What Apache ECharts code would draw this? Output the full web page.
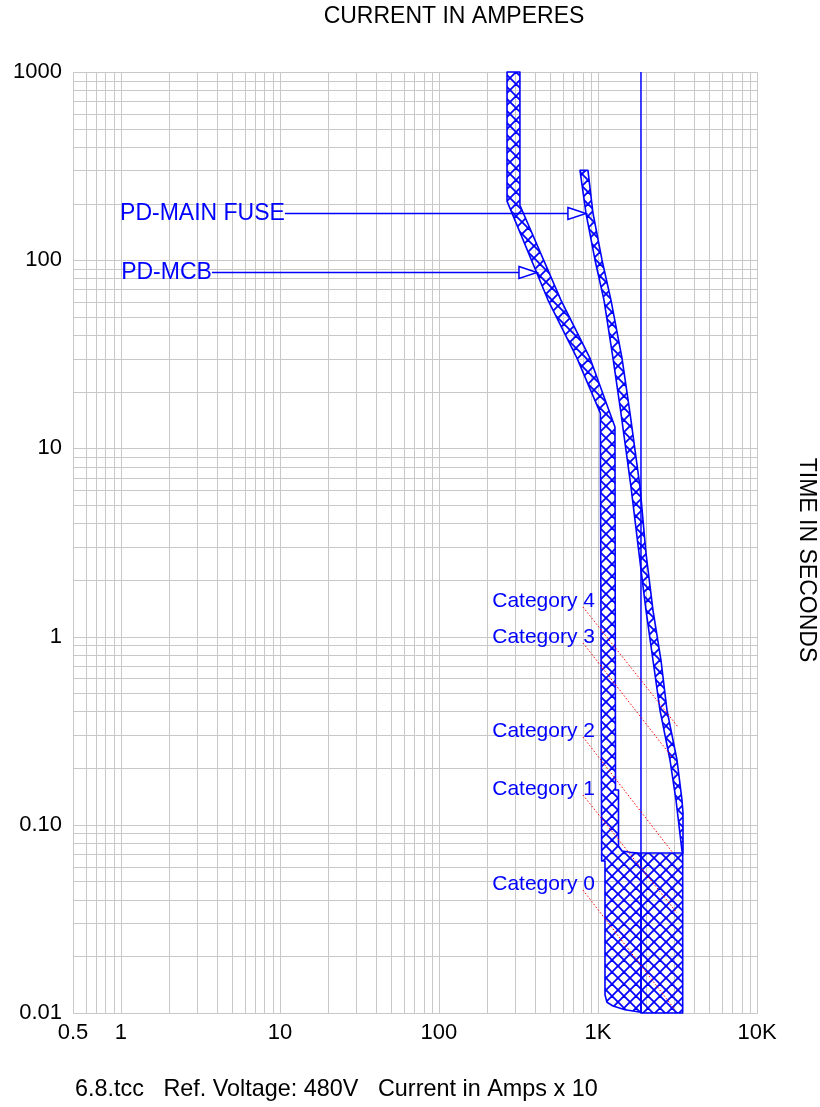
<!DOCTYPE html>
<html><head><meta charset="utf-8">
<script src="https://cdn.jsdelivr.net/npm/echarts@6/dist/echarts.min.js"></script>
<style>html,body{margin:0;padding:0;background:#fff}#c{width:820px;height:1107px}</style>
</head><body><div id="c"></div>
<script>
// ---- tick labels ----
const xTickValues = [0.5, 1, 10, 100, 1000, 10000];
const xTickLabels = ['0.5', '1', '10', '100', '1K', '10K'];
const yTickValues = [0.01, 0.1, 1, 10, 100, 1000];
const yTickLabels = ['0.01', '0.10', '1', '10', '100', '1000'];
const xGridStartMultipliers = [5, 6, 7, 8, 9];          // 0.5 .. 0.9
const gridMultipliers = [1, 2, 3, 4, 5, 6, 7, 8, 9];
const xGridDecades = [1, 10, 100, 1000];
const yGridDecades = [0.01, 0.1, 1, 10, 100];

// ---- PD-MCB band (amps, seconds) ----
const mcbAmps = [268, 323, 323, 585, 890, 1279, 1289, 1346, 1346, 1416, 1590, 1864, 1864, 1479, 1243, 1139, 1107, 1107, 1055, 1035, 738, 485, 268];
const mcbSecs = [1000, 1000, 196, 61.4, 30.2, 13.0, 0.153, 0.153, 0.0772, 0.0726, 0.0714, 0.0706, 0.0101, 0.0104, 0.0109, 0.0114, 0.0125, 0.0642, 0.0642, 15.4, 30.2, 61.4, 206];

// ---- PD-MAIN FUSE band ----
const fuseMinAmps = [771, 840, 958, 1091, 1243, 1395, 1613, 1811, 2004, 2217, 2454, 2837, 3095, 3375];
const fuseMinSecs = [300, 178.2, 100.3, 61.4, 30.2, 15.4, 6.24, 2.78, 1.384, 0.751, 0.407, 0.221, 0.1354, 0.0726];
const fuseMaxAmps = [865, 930, 1060, 1207, 1416, 1590, 1838, 2004, 2217, 2489, 2716, 3140, 3375, 3425, 3425];
const fuseMaxSecs = [300, 178.2, 100.3, 61.4, 30.2, 15.4, 6.24, 2.78, 1.384, 0.751, 0.407, 0.221, 0.1354, 0.1155, 0.0708];

// ---- lower block ----
const blockAmps = [1864, 3410, 3410, 1864];
const blockSecs = [0.0708, 0.0708, 0.01, 0.01];

// ---- fault current line ----
const faultAmps = 1864;

// ---- device labels with arrows ----
const deviceLabels = ['PD-MAIN FUSE', 'PD-MCB'];
const deviceLabelAmps = [10.75, 3.735];
const deviceArrowTipAmps = [840, 413.5];
const deviceLabelSecs = [178.2, 86.6];

// ---- category lines ----
const categoryLabels = ['Category 4', 'Category 3', 'Category 2', 'Category 1', 'Category 0'];
const categoryStartAmps = [805, 805, 805, 805, 805];
const categoryStartSecs = [1.436, 0.925, 0.293, 0.144, 0.045];
const categoryEndAmps = [3186, 2920, 2963, 3140, 3051];
const categoryEndSecs = [0.331, 0.229, 0.0708, 0.034, 0.0104];

const BLUE = '#0000ff';
const FONT = '"Liberation Sans", Arial, sans-serif';

// grid line values
const xGridValues = xGridStartMultipliers.map(m => m / 10);
xGridDecades.forEach(d => gridMultipliers.forEach(m => xGridValues.push(d * m)));
xGridValues.push(10000);
const yGridValues = [];
yGridDecades.forEach(d => gridMultipliers.forEach(m => yGridValues.push(+(d * m).toPrecision(3))));
yGridValues.push(1000);

// hatch pattern
const P = 12;
const pc = document.createElement('canvas');
pc.width = P; pc.height = P;
const g = pc.getContext('2d');
g.strokeStyle = BLUE; g.lineWidth = 1.8;
[-P, 0, P].forEach(k => {
  g.beginPath(); g.moveTo(k, 0); g.lineTo(k + P, P); g.stroke();
  g.beginPath(); g.moveTo(k + P, 0); g.lineTo(k, P); g.stroke();
});
const hatch = { image: pc, repeat: 'repeat' };

function lookup(vals, labels, v) {
  for (let i = 0; i < vals.length; i++) if (Math.abs(Math.log10(v) - Math.log10(vals[i])) < 1e-6) return labels[i];
  return '';
}

function polySeries(name, amps, secs) {
  return {
    type: 'custom', name: name, z: 3, data: [[1, 1]], silent: true,
    renderItem: function (params, api) {
      const pts = amps.map((a, i) => api.coord([a, secs[i]]));
      return { type: 'polygon', shape: { points: pts },
        style: { fill: hatch, stroke: BLUE, lineWidth: 1.6, lineJoin: 'round' } };
    }
  };
}

const fuseAmps = fuseMinAmps.concat(fuseMaxAmps.slice().reverse());
const fuseSecs = fuseMinSecs.concat(fuseMaxSecs.slice().reverse());

const chart = echarts.init(document.getElementById('c'), null, { renderer: 'canvas' });
chart.setOption({
  animation: false,
  backgroundColor: '#fff',
  grid: { left: 73, right: 63, top: 72, bottom: 94 },
  xAxis: {
    type: 'log', logBase: 10, min: 0.5, max: 10000,
    axisLine: { show: false }, axisTick: { show: false }, splitLine: { show: false },
    axisLabel: { color: '#000', fontFamily: FONT, fontSize: 22, margin: 9,
      formatter: v => lookup(xTickValues, xTickLabels, v) }
  },
  yAxis: {
    type: 'log', logBase: 10, min: 0.01, max: 1000,
    axisLine: { show: false }, axisTick: { show: false }, splitLine: { show: false },
    axisLabel: { color: '#000', fontFamily: FONT, fontSize: 22, margin: 11,
      formatter: v => lookup(yTickValues, yTickLabels, v) }
  },
  graphic: [
    { type: 'text', x: 454, y: 17,
      style: { text: 'CURRENT IN AMPERES', font: '23px ' + FONT, fill: '#000', align: 'center', verticalAlign: 'middle' } },
    { type: 'text', x: 806, y: 560, rotation: -Math.PI / 2,
      style: { text: 'TIME IN SECONDS', font: '23px ' + FONT, fill: '#000', align: 'center', verticalAlign: 'middle' } },
    { type: 'text', x: 75, y: 1090,
      style: { text: '6.8.tcc   Ref. Voltage: 480V   Current in Amps x 10', font: '23.4px ' + FONT, fill: '#000', verticalAlign: 'middle' } }
  ],
  series: [
    { // grid lines
      type: 'custom', z: 1, silent: true, data: [[1, 1]],
      renderItem: function (params, api) {
        const children = [];
        xGridValues.forEach(v => {
          const a = api.coord([v, 0.01]), b = api.coord([v, 1000]);
          const x = Math.round(a[0]) + 0.5;
          children.push({ type: 'line', shape: { x1: x, y1: Math.round(a[1]) + 0.5, x2: x, y2: Math.round(b[1]) + 0.5 },
            style: { stroke: '#c8c8c8', lineWidth: 1 } });
        });
        yGridValues.forEach(v => {
          const a = api.coord([0.5, v]), b = api.coord([10000, v]);
          const y = Math.round(a[1]) + 0.5;
          children.push({ type: 'line', shape: { x1: Math.round(a[0]) + 0.5, y1: y, x2: Math.round(b[0]) + 0.5, y2: y },
            style: { stroke: '#c8c8c8', lineWidth: 1 } });
        });
        return { type: 'group', children: children };
      }
    },
    polySeries('PD-MCB', mcbAmps, mcbSecs),
    polySeries('PD-MAIN FUSE', fuseAmps, fuseSecs),
    polySeries('block', blockAmps, blockSecs),
    { // fault current line
      type: 'line', z: 4, silent: true, symbol: 'none',
      data: [[faultAmps, 0.01], [faultAmps, 1000]],
      lineStyle: { color: BLUE, width: 1.5 }
    },
    { // category dotted lines + labels
      type: 'custom', z: 5, silent: true,
      data: categoryLabels.map((c, i) => [categoryStartAmps[i], categoryStartSecs[i]]),
      renderItem: function (params, api) {
        const i = params.dataIndex;
        const s = api.coord([categoryStartAmps[i], categoryStartSecs[i]]);
        const e = api.coord([categoryEndAmps[i], categoryEndSecs[i]]);
        return { type: 'group', children: [
          { type: 'line', shape: { x1: s[0], y1: s[1], x2: e[0], y2: e[1] },
            style: { stroke: '#ff0000', lineWidth: 1, lineDash: [1.5, 2] } },
          { type: 'text', x: s[0] + 12, y: s[1] - 6,
            style: { text: categoryLabels[i], font: '21px ' + FONT, fill: BLUE, align: 'right', verticalAlign: 'middle' } }
        ] };
      }
    },
    { // device labels with arrows
      type: 'custom', z: 6, silent: true,
      data: deviceLabels.map((d, i) => [deviceLabelAmps[i], deviceLabelSecs[i]]),
      renderItem: function (params, api) {
        const i = params.dataIndex;
        const s = api.coord([deviceLabelAmps[i], deviceLabelSecs[i]]);
        const t = api.coord([deviceArrowTipAmps[i], deviceLabelSecs[i]]);
        const y = Math.round(s[1]) + 0.5;
        return { type: 'group', children: [
          { type: 'line', shape: { x1: s[0], y1: y, x2: t[0] - 18, y2: y }, style: { stroke: BLUE, lineWidth: 1.5 } },
          { type: 'polygon', shape: { points: [[t[0] - 18, y - 6], [t[0], y], [t[0] - 18, y + 6]] },
            style: { fill: '#fff', stroke: BLUE, lineWidth: 1.5 } },
          { type: 'text', x: s[0], y: y,
            style: { text: deviceLabels[i], font: '23px ' + FONT, fill: BLUE, align: 'right', verticalAlign: 'middle' } }
        ] };
      }
    }
  ]
});
</script></body></html>
